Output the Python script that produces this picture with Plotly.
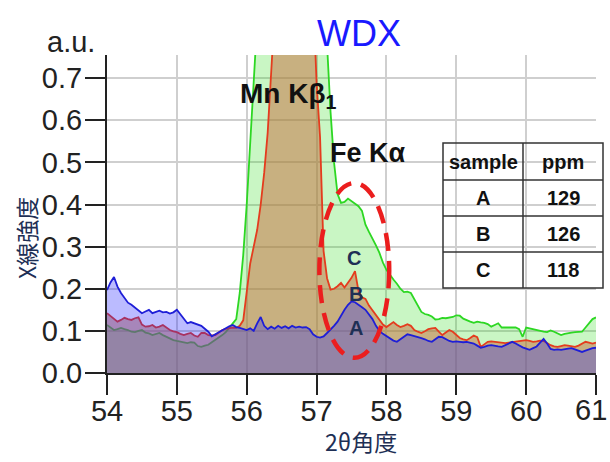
import plotly.graph_objects as go

# ---------------- data ----------------
two_theta = [round(54 + 0.05 * i, 2) for i in range(141)]

sample_A = [
    0.197, 0.215, 0.228, 0.205, 0.190, 0.178, 0.167, 0.162, 0.155, 0.148,
    0.142, 0.146, 0.150, 0.142, 0.145, 0.148, 0.144, 0.145, 0.141, 0.144,
    0.150, 0.140, 0.130, 0.118, 0.121, 0.118, 0.116, 0.112, 0.105, 0.098,
    0.087, 0.092, 0.098, 0.103, 0.107, 0.111, 0.114, 0.109, 0.107, 0.104,
    0.102, 0.106, 0.100, 0.118, 0.133, 0.112, 0.104, 0.110, 0.105, 0.112,
    0.107, 0.111, 0.106, 0.112, 0.108, 0.110, 0.108, 0.109, 0.104, 0.092,
    0.086, 0.084, 0.087, 0.095, 0.103, 0.112, 0.122, 0.137, 0.150, 0.162,
    0.170, 0.168, 0.163, 0.156, 0.150, 0.140, 0.128, 0.112, 0.100, 0.093,
    0.087, 0.082, 0.077, 0.074, 0.080, 0.085, 0.092, 0.090, 0.088, 0.085,
    0.083, 0.080, 0.076, 0.074, 0.080, 0.086, 0.085, 0.080, 0.076, 0.074,
    0.075, 0.074, 0.073, 0.074, 0.072, 0.070, 0.065, 0.060, 0.062, 0.065,
    0.066, 0.064, 0.063, 0.062, 0.066, 0.071, 0.074, 0.070, 0.065, 0.061,
    0.058, 0.055, 0.059, 0.063, 0.072, 0.081, 0.070, 0.057, 0.055, 0.056,
    0.055, 0.057, 0.058, 0.059, 0.056, 0.053, 0.050, 0.053, 0.056, 0.059,
    0.060,
]

sample_B = [
    0.142, 0.136, 0.130, 0.122, 0.126, 0.131, 0.128, 0.126, 0.130, 0.132,
    0.115, 0.110, 0.111, 0.114, 0.108, 0.110, 0.114, 0.108, 0.102, 0.099,
    0.097, 0.093, 0.090, 0.093, 0.095, 0.089, 0.086, 0.095, 0.095, 0.090,
    0.089, 0.090, 0.096, 0.102, 0.105, 0.107, 0.108, 0.107, 0.112, 0.125,
    0.190, 0.260, 0.300, 0.340, 0.400, 0.475, 0.570, 0.680, 0.820, 1.000,
    1.200, 1.400, 1.500, 1.550, 1.500, 1.450, 1.350, 1.200, 1.050, 0.900,
    0.690, 0.560, 0.290, 0.225, 0.198, 0.200, 0.206, 0.214, 0.203, 0.214,
    0.226, 0.242, 0.195, 0.180, 0.176, 0.160, 0.148, 0.137, 0.124, 0.115,
    0.109, 0.116, 0.121, 0.114, 0.109, 0.112, 0.116, 0.112, 0.102, 0.098,
    0.095, 0.099, 0.104, 0.106, 0.107, 0.098, 0.090, 0.096, 0.102, 0.098,
    0.090, 0.083, 0.080, 0.078, 0.083, 0.089, 0.085, 0.062, 0.068, 0.074,
    0.075, 0.074, 0.073, 0.072, 0.071, 0.072, 0.073, 0.074, 0.076, 0.077,
    0.078, 0.076, 0.074, 0.075, 0.077, 0.076, 0.070, 0.066, 0.063, 0.062,
    0.064, 0.066, 0.065, 0.063, 0.062, 0.065, 0.069, 0.074, 0.072, 0.070,
    0.072,
]

sample_C = [
    0.114, 0.108, 0.102, 0.104, 0.107, 0.104, 0.102, 0.098, 0.097, 0.100,
    0.102, 0.096, 0.094, 0.090, 0.092, 0.095, 0.090, 0.086, 0.082, 0.078,
    0.076, 0.074, 0.072, 0.071, 0.073, 0.072, 0.064, 0.062, 0.065, 0.067,
    0.073, 0.078, 0.083, 0.090, 0.097, 0.108, 0.118, 0.128, 0.190, 0.280,
    0.400, 0.550, 0.690, 0.850, 1.100, 1.300, 1.500, 1.700, 1.850, 1.950,
    2.000, 2.000, 1.950, 1.900, 1.800, 1.700, 1.550, 1.400, 1.250, 1.150,
    1.050, 0.950, 0.880, 0.780, 0.620, 0.500, 0.425, 0.404, 0.406, 0.414,
    0.408, 0.404, 0.396, 0.385, 0.352, 0.335, 0.320, 0.303, 0.285, 0.262,
    0.245, 0.232, 0.222, 0.212, 0.200, 0.192, 0.193, 0.190, 0.175, 0.160,
    0.145, 0.140, 0.138, 0.134, 0.127, 0.128, 0.131, 0.130, 0.131, 0.133,
    0.137, 0.136, 0.129, 0.125, 0.122, 0.119, 0.122, 0.120, 0.119, 0.116,
    0.110, 0.114, 0.118, 0.108, 0.108, 0.109, 0.109, 0.108, 0.104, 0.086,
    0.108, 0.106, 0.103, 0.101, 0.099, 0.098, 0.097, 0.101, 0.098, 0.094,
    0.090, 0.093, 0.095, 0.096, 0.097, 0.097, 0.098, 0.108, 0.118, 0.128,
    0.132,
]

x_ticks = [54, 55, 56, 57, 58, 59, 60, 61]
y_ticks = [0.0, 0.1, 0.2, 0.3, 0.4, 0.5, 0.6, 0.7]

table_samples = ["A", "B", "C"]
table_ppm = [129, 126, 118]

# label positions (data coords) for curve labels
curve_labels = ["C", "B", "A"]
curve_label_x = [57.54, 57.56, 57.56]
curve_label_y = [0.273, 0.188, 0.107]

# ---------------- layout geometry (pixels) ----------------
W, H = 610, 462
PL, PR, PT, PB = 107, 596, 55, 373


def paper(px, py):
    return (px - PL) / (PR - PL), (PB - py) / (PB - PT)


fig = go.Figure()

series = [
    ("C", sample_C, "rgb(45,215,35)", "rgba(40,220,20,0.25)"),
    ("B", sample_B, "rgb(228,60,30)", "rgba(199,106,60,0.5)"),
    ("A", sample_A, "rgb(30,30,215)", "rgba(30,30,255,0.3)"),
]
for name, ys, lc, fc in series:
    fig.add_trace(go.Scatter(
        x=two_theta, y=ys, name=name, mode="lines",
        line=dict(color=lc, width=1.8),
        fill="tozeroy", fillcolor=fc,
        hoverinfo="skip", showlegend=False,
    ))

annotations = []
NAVY = "#1e2f55"
axis_font = dict(size=29, color="#222222", family="Liberation Sans, Arial, sans-serif")

# title WDX
tx, ty = paper(359, 33)
annotations.append(dict(text="WDX", x=tx, y=ty, xref="paper", yref="paper",
                        showarrow=False, xanchor="center", yanchor="middle",
                        font=dict(size=36, color="rgb(25,25,255)",
                                  family="Liberation Sans, Arial, sans-serif")))
# a.u.
ax_, ay_ = paper(71, 42)
annotations.append(dict(text="a.u.", x=ax_, y=ay_, xref="paper", yref="paper",
                        showarrow=False, xanchor="center", yanchor="middle",
                        font=dict(size=29, color="#222222",
                                  family="Liberation Sans, Arial, sans-serif")))
# y axis title
yx, yy = paper(26, 238)
annotations.append(dict(text="X線強度", x=yx, y=yy, xref="paper", yref="paper",
                        showarrow=False, xanchor="center", yanchor="middle",
                        textangle=-90,
                        font=dict(size=23, color=NAVY,
                                  family="Noto Sans CJK JP, sans-serif")))
# x axis title
xx, xy = paper(361, 441)
annotations.append(dict(text="2θ角度", x=xx, y=xy, xref="paper", yref="paper",
                        showarrow=False, xanchor="center", yanchor="middle",
                        font=dict(size=23, color=NAVY,
                                  family="Noto Sans CJK JP, sans-serif")))

# last x tick label, kept inside the page edge
lx_, ly_ = paper(609, 410)
annotations.append(dict(text=str(x_ticks[-1]), x=lx_, y=ly_, xref="paper", yref="paper",
                        showarrow=False, xanchor="right", yanchor="middle",
                        font=axis_font))

# peak labels
annotations.append(dict(text="<b>Mn Kβ<sub>1</sub></b>", x=56.6, y=0.66,
                        xref="x", yref="y", showarrow=False,
                        xanchor="center", yanchor="middle",
                        font=dict(size=28, color="#111111",
                                  family="Liberation Sans, Arial, sans-serif")))
annotations.append(dict(text="<b>Fe Kα</b>", x=57.74, y=0.522,
                        xref="x", yref="y", showarrow=False,
                        xanchor="center", yanchor="middle",
                        font=dict(size=27, color="#111111",
                                  family="Liberation Sans, Arial, sans-serif")))
for lab, lx, ly in zip(curve_labels, curve_label_x, curve_label_y):
    annotations.append(dict(text="<b>" + lab + "</b>", x=lx, y=ly,
                            xref="x", yref="y", showarrow=False,
                            xanchor="center", yanchor="middle",
                            font=dict(size=20, color=NAVY,
                                      family="Liberation Sans, Arial, sans-serif")))

# ---------------- table ----------------
shapes = []
TL, TR, TT, TB = 443, 603, 143, 288
TMID = 523
row_edges = [143, 180, 216, 252, 288]
x0, y0 = paper(TL, TB)
x1, y1 = paper(TR, TT)
shapes.append(dict(type="rect", xref="paper", yref="paper", x0=x0, y0=y0,
                   x1=x1, y1=y1, line=dict(color="#333333", width=1.5),
                   fillcolor="rgba(0,0,0,0)", layer="above"))
mx, _ = paper(TMID, 0)
shapes.append(dict(type="line", xref="paper", yref="paper", x0=mx, x1=mx,
                   y0=y0, y1=y1, line=dict(color="#333333", width=1.5)))
for r in row_edges[1:-1]:
    _, ry = paper(0, r)
    shapes.append(dict(type="line", xref="paper", yref="paper", x0=x0, x1=x1,
                       y0=ry, y1=ry, line=dict(color="#333333", width=1.5)))

col_centers = [(TL + TMID) / 2, (TMID + TR) / 2]
header = ["sample", "ppm"]
tfont = dict(size=20, color="#111111", family="Liberation Sans, Arial, sans-serif")
hy = (row_edges[0] + row_edges[1]) / 2
for hc, cx in zip(header, col_centers):
    px_, py_ = paper(cx, hy)
    annotations.append(dict(text="<b>" + hc + "</b>", x=px_, y=py_, xref="paper",
                            yref="paper", showarrow=False, xanchor="center",
                            yanchor="middle", font=tfont))
for i, (s, v) in enumerate(zip(table_samples, table_ppm)):
    cy = (row_edges[i + 1] + row_edges[i + 2]) / 2
    for txt, cx in zip([s, str(v)], col_centers):
        px_, py_ = paper(cx, cy)
        annotations.append(dict(text="<b>" + txt + "</b>", x=px_, y=py_,
                                xref="paper", yref="paper", showarrow=False,
                                xanchor="center", yanchor="middle", font=tfont))

# red dashed ellipse around Fe K alpha
shapes.append(dict(type="circle", xref="x", yref="y",
                   x0=57.04, x1=58.04, y0=0.036, y1=0.451,
                   line=dict(color="rgb(235,30,30)", width=4.5, dash="18px,10px"),
                   fillcolor="rgba(0,0,0,0)", layer="above"))

fig.update_layout(
    width=W, height=H, autosize=False,
    margin=dict(l=PL, r=W - PR, t=PT, b=H - PB, pad=0, autoexpand=False),
    paper_bgcolor="white", plot_bgcolor="white",
    annotations=annotations, shapes=shapes,
    showlegend=False,
)
x_ticktext = [str(t) for t in x_ticks[:-1]] + [""]
fig.update_xaxes(range=[54, 61], tickvals=x_ticks, ticktext=x_ticktext,
                 ticks="outside", ticklen=20, tickwidth=2, tickcolor="#222222",
                 ticklabelstandoff=-9, automargin=False,
                 showline=True, linecolor="#222222", linewidth=2,
                 showgrid=True, gridcolor="#cfcfcf", gridwidth=1.5,
                 zeroline=False, tickfont=axis_font, ticklabeloverflow="allow")
fig.update_yaxes(range=[0, 0.755], tickvals=y_ticks, ticktext=[f"{t:.1f}" for t in y_ticks],
                 ticks="outside", ticklen=20, tickwidth=2, tickcolor="#222222",
                 ticklabelstandoff=-3, automargin=False,
                 showline=True, linecolor="#222222", linewidth=2,
                 showgrid=True, gridcolor="#cfcfcf", gridwidth=1.5,
                 zeroline=False, tickfont=axis_font, ticklabeloverflow="allow")

fig.write_html(
    "out.html",
    config={"displayModeBar": False, "responsive": False},
    post_script=("document.body.style.margin='0';document.body.style.padding='0';"
                 "document.body.style.overflow='hidden';"),
)
